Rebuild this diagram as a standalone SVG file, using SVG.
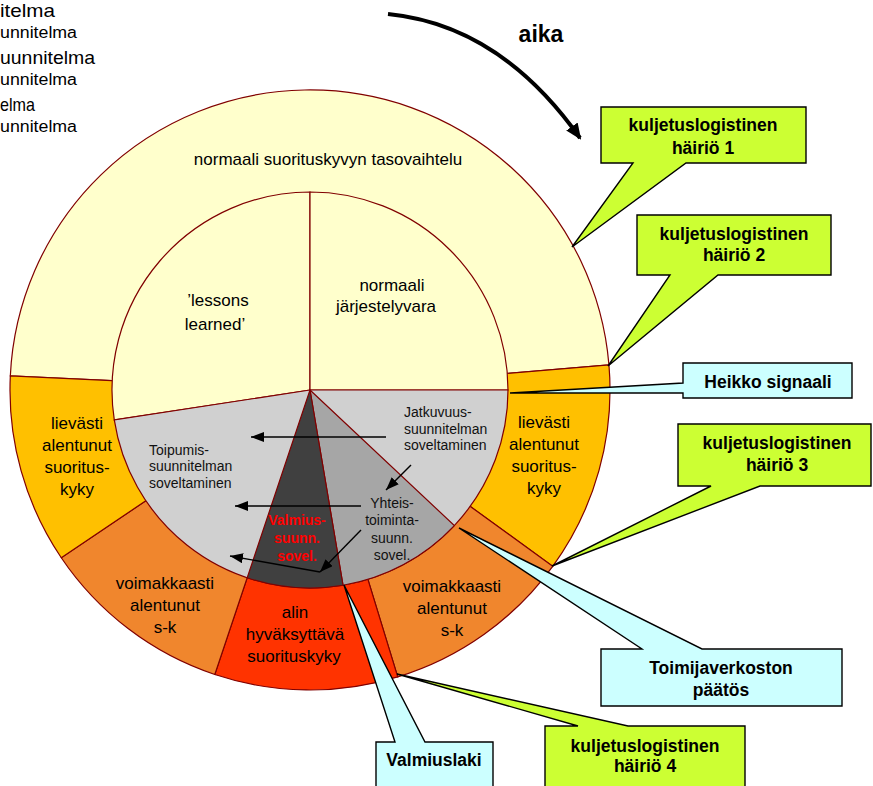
<svg xmlns="http://www.w3.org/2000/svg" width="873" height="786" viewBox="0 0 873 786">
<defs>
<marker id="ah" markerUnits="userSpaceOnUse" markerWidth="14" markerHeight="10" refX="13" refY="5" orient="auto"><path d="M0,0 L13,5 L0,10 Z" fill="#000"/></marker>
<marker id="ahBig" markerUnits="userSpaceOnUse" markerWidth="16" markerHeight="14" refX="14" refY="7" orient="auto"><path d="M0,0 L16,7 L0,14 Z" fill="#000"/></marker>
</defs>
<style>
.seg{stroke:#800000;stroke-width:1.2}
.t{font-family:"Liberation Sans",Arial,sans-serif;fill:#000}
.ring{font-size:17px;text-anchor:middle}
.inn{font-size:14px;fill:#111}
.co{font-size:17.5px;font-weight:bold;text-anchor:middle}
.big{font-size:19px}
.small{font-size:16px}
.call{stroke:#000;stroke-width:1.4;stroke-linejoin:miter}
.g{fill:#CCFF33}
.c{fill:#CCFFFF}
.arr{stroke:#000;stroke-width:1.4;fill:none;marker-end:url(#ah)}
</style>

<g id="topleft-text">
<text class="t big" x="0" y="17" textLength="55" lengthAdjust="spacingAndGlyphs">itelma</text>
<text class="t small" x="0" y="38" textLength="77" lengthAdjust="spacingAndGlyphs">unnitelma</text>
<text class="t big" x="0" y="64" textLength="95" lengthAdjust="spacingAndGlyphs">uunnitelma</text>
<text class="t small" x="0" y="85" textLength="77" lengthAdjust="spacingAndGlyphs">unnitelma</text>
<text class="t big" x="0" y="111" textLength="35" lengthAdjust="spacingAndGlyphs">elma</text>
<text class="t small" x="0" y="132" textLength="77" lengthAdjust="spacingAndGlyphs">unnitelma</text>
</g>

<g id="aika">
<path d="M388,14 Q500,25 580,138" fill="none" stroke="#000" stroke-width="4" marker-end="url(#ahBig)"/>
<text class="t" x="541" y="42" font-size="23" font-weight="bold" text-anchor="middle">aika</text>
</g>

<g id="outer-ring">
<path id="seg-normal" class="seg" fill="#FFFFCC" d="M310,390 L10.33,375.87 A300,300 0 0 1 608.95,364.9 Z"/>
<path id="seg-lievasti-r" class="seg" fill="#FFC000" d="M310,390 L608.95,364.9 A300,300 0 0 1 552.71,566.34 Z"/>
<path id="seg-voimakkaasti-r" class="seg" fill="#F0862D" d="M310,390 L552.71,566.34 A300,300 0 0 1 397.71,676.89 Z"/>
<path id="seg-alin" class="seg" fill="#FF3300" d="M310,390 L397.71,676.89 A300,300 0 0 1 214.81,674.5 Z"/>
<path id="seg-voimakkaasti-l" class="seg" fill="#F0862D" d="M310,390 L214.81,674.5 A300,300 0 0 1 61.29,557.76 Z"/>
<path id="seg-lievasti-l" class="seg" fill="#FFC000" d="M310,390 L61.29,557.76 A300,300 0 0 1 10.33,375.87 Z"/>
</g>

<g id="inner-circle">
<path id="in-lessons" class="seg" fill="#FFFFCC" d="M310,390 L114.28,419.95 A198,198 0 0 1 310,192 Z"/>
<path id="in-jarjestely" class="seg" fill="#FFFFCC" d="M310,390 L310,192 A198,198 0 0 1 508,390 Z"/>
<path id="in-gray" class="seg" fill="#D0D0D0" d="M310,390 L508,390 A198,198 0 0 1 114.28,419.95 Z"/>
<path id="in-mid" class="seg" fill="#A6A6A6" d="M310,390 L454.34,525.54 A198,198 0 0 1 343.02,585.23 Z"/>
<path id="in-dark" class="seg" fill="#404040" d="M310,390 L343.02,585.23 A198,198 0 0 1 247.17,577.77 Z"/>
</g>

<g id="ring-labels">
<text class="t ring" x="328" y="165">normaali suorituskyvyn tasovaihtelu</text>
<text class="t ring" x="392" y="291">normaali</text>
<text class="t ring" x="386" y="312">järjestelyvara</text>
<text class="t ring" x="218" y="306">’lessons</text>
<text class="t ring" x="215" y="330">learned’</text>
<text class="t ring" x="77" y="429">lievästi</text>
<text class="t ring" x="77" y="451">alentunut</text>
<text class="t ring" x="77" y="473">suoritus-</text>
<text class="t ring" x="77" y="495">kyky</text>
<text class="t ring" x="544" y="428">lievästi</text>
<text class="t ring" x="544" y="450">alentunut</text>
<text class="t ring" x="544" y="472">suoritus-</text>
<text class="t ring" x="544" y="494">kyky</text>
<text class="t ring" x="165" y="589">voimakkaasti</text>
<text class="t ring" x="165" y="611">alentunut</text>
<text class="t ring" x="165" y="633">s-k</text>
<text class="t ring" x="452" y="592">voimakkaasti</text>
<text class="t ring" x="452" y="614">alentunut</text>
<text class="t ring" x="452" y="636">s-k</text>
<text class="t ring" x="295" y="618">alin</text>
<text class="t ring" x="295" y="640">hyväksyttävä</text>
<text class="t ring" x="294" y="662">suorituskyky</text>
</g>

<g id="inner-labels">
<text class="t inn" x="149" y="455">Toipumis-</text>
<text class="t inn" x="149" y="471">suunnitelman</text>
<text class="t inn" x="149" y="488">soveltaminen</text>
<text class="t inn" x="404" y="417">Jatkuvuus-</text>
<text class="t inn" x="404" y="434">suunnitelman</text>
<text class="t inn" x="404" y="450">soveltaminen</text>
<text class="t inn" x="392" y="508" text-anchor="middle">Yhteis-</text>
<text class="t inn" x="392" y="525" text-anchor="middle">toiminta-</text>
<text class="t inn" x="392" y="543" text-anchor="middle">suunn.</text>
<text class="t inn" x="392" y="560" text-anchor="middle">sovel.</text>
<text class="t inn" x="297" y="525" text-anchor="middle" font-weight="bold" style="fill:#FF0000">Valmius-</text>
<text class="t inn" x="297" y="543" text-anchor="middle" font-weight="bold" style="fill:#FF0000">suunn.</text>
<text class="t inn" x="297" y="561" text-anchor="middle" font-weight="bold" style="fill:#FF0000">sovel.</text>
</g>

<g id="connectors">
<line class="arr" x1="386" y1="437" x2="251" y2="437"/>
<line class="arr" x1="361" y1="506" x2="235" y2="506"/>
<line class="arr" x1="411" y1="465" x2="386" y2="490"/>
<line class="arr" x1="361" y1="530" x2="320" y2="572"/>
<line class="arr" x1="320" y1="572" x2="230" y2="556"/>
</g>

<g id="callout-hairio1">
<path class="call g" d="M601,107 H806 V163 H686 L572,247 L633,163 H601 Z"/>
<text class="t co" x="703" y="131">kuljetuslogistinen</text>
<text class="t co" x="703" y="154">häiriö 1</text>
</g>
<g id="callout-hairio2">
<path class="call g" d="M637,215 H831 V275 H718 L608,366 L670,275 H637 Z"/>
<text class="t co" x="734" y="240">kuljetuslogistinen</text>
<text class="t co" x="734" y="261">häiriö 2</text>
</g>
<g id="callout-heikko">
<path class="call c" d="M683,363 H852 V398 H683 V393 L510,393 L683,383 Z"/>
<text class="t co" x="768" y="388">Heikko signaali</text>
</g>
<g id="callout-hairio3">
<path class="call g" d="M678,424 H871 V486 H760 L552,566 L711,486 H678 Z"/>
<text class="t co" x="777" y="449">kuljetuslogistinen</text>
<text class="t co" x="777" y="471">häiriö 3</text>
</g>
<g id="callout-toimija">
<path class="call c" d="M601,649 H642 L459,528 L702,649 H842 V706 H601 Z"/>
<text class="t co" x="721" y="674">Toimijaverkoston</text>
<text class="t co" x="721" y="696">päätös</text>
</g>
<g id="callout-valmiuslaki">
<path class="call c" d="M376,742 H395 L344,585 L425,742 H493 V792 H376 Z"/>
<text class="t co" x="434" y="766">Valmiuslaki</text>
</g>
<g id="callout-hairio4">
<path class="call g" d="M545,726 H578 L397,674 L628,726 H745 V792 H545 Z"/>
<text class="t co" x="645" y="752">kuljetuslogistinen</text>
<text class="t co" x="645" y="772">häiriö 4</text>
</g>
</svg>
